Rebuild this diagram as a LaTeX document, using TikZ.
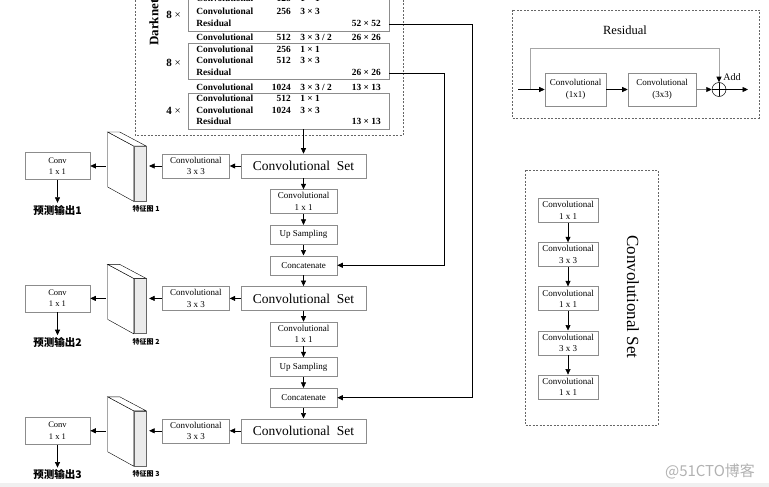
\documentclass[tikz,border=0pt]{standalone}
\usepackage{fontspec}
\setmainfont{Liberation Serif}
\newfontfamily\cjk{Noto Sans CJK SC}
\usetikzlibrary{arrows.meta,positioning,calc}

\tikzset{
  >={Triangle[length=5.5pt,width=5pt,black]},
  box/.style={draw=black!45, fill=white, align=center, inner sep=0pt,
    font=\fontsize{9}{11.5}\selectfont},
  setbox/.style={box, minimum width=125pt, minimum height=24pt,
    font=\fontsize{13.5}{15}\selectfont},
  midbox/.style={box, minimum width=67pt, minimum height=24pt},
  thinbox/.style={box, minimum width=67pt, minimum height=19pt},
  outbox/.style={box, minimum width=65pt, minimum height=27pt,
    font=\fontsize{8.5}{11.5}\selectfont},
  csbox/.style={box, minimum width=60pt, minimum height=24pt},
  dkbox/.style={draw=black!45, minimum width=201pt, inner sep=0pt},
  dkframe/.style={draw=black!60, dash pattern=on 2pt off 1.5pt, line width=0.5pt},
  dkrow/.style={inner sep=0pt, text height=6.5pt, text depth=2pt,
    font=\fontsize{9.4}{10}\selectfont\bfseries},
}

\begin{document}
\begin{tikzpicture}[x=1pt, y=-1pt, line width=0.6pt]
\useasboundingbox (0,0) rectangle (769,487);
\clip (0,0) rectangle (769,487);
\fill[white] (0,0) rectangle (769,487);
\fill[black!6] (0,483) rectangle (769,487);

% backbone
\draw[dkframe] (135,-10) rectangle (403,135);
\node[rotate=90, font=\fontsize{13}{13}\selectfont\bfseries] (dkname) at (154,14) {Darknet-53};
\node[dkbox, minimum height=39pt] (b1) at (288.5,11.5) {};
\node[dkbox, minimum height=36pt] (b2) at (288.5,61) {};
\node[dkbox, minimum height=36pt] (b3) at (288.5,111) {};
\foreach \y/\m [count=\i] in {15/8,63/8,111/4}
  \node[inner sep=0pt, font=\fontsize{11}{11}\selectfont\bfseries] (rep\i) at (173.5,\y) {\m\ \textmd{×}};
\foreach \y/\t/\n/\k/\o [count=\r] in {
    -1/Convolutional/128/{1 × 1}/{},
    12/Convolutional/256/{3 × 3}/{},
    24/Residual/{}/{}/{52 × 52},
    38/Convolutional/512/{3 × 3 / 2}/{26 × 26},
    50/Convolutional/256/{1 × 1}/{},
    61/Convolutional/512/{3 × 3}/{},
    73/Residual/{}/{}/{26 × 26},
    88/Convolutional/1024/{3 × 3 / 2}/{13 × 13},
    99/Convolutional/512/{1 × 1}/{},
    111/Convolutional/1024/{3 × 3}/{},
    122/Residual/{}/{}/{13 × 13}}
{
  \node[dkrow, anchor=west] (t\r) at (196,\y) {\t};
  \node[dkrow, anchor=east] (n\r) at (291,\y) {\n};
  \node[dkrow, anchor=west] (k\r) at (300,\y) {\k};
  \node[dkrow, anchor=east] (o\r) at (381,\y) {\o};
}

% detection head
\node[setbox] (set1) at (303.5,166) {Convolutional\hspace{0.5em}Set};
\node[midbox, below=11pt of set1] (cv1) {Convolutional\\1 x 1};
\node[thinbox, below=11pt of cv1] (up1) {Up Sampling};
\node[thinbox, below=11pt of up1] (cat1) {Concatenate};
\node[setbox, below=11pt of cat1] (set2) {Convolutional\hspace{0.5em}Set};
\node[midbox, below=11pt of set2] (cv2) {Convolutional\\1 x 1};
\node[thinbox, below=11pt of cv2] (up2) {Up Sampling};
\node[thinbox, below=11pt of up2] (cat2) {Concatenate};
\node[setbox, below=11pt of cat2] (set3) {Convolutional\hspace{0.5em}Set};
\foreach \a/\b in {set1/cv1,cv1/up1,up1/cat1,cat1/set2,set2/cv2,cv2/up2,up2/cat2,cat2/set3}
  \draw[->] (\a) -- (\b);

\draw[->] (b3.south -| set1) -- (set1);
\draw[->] (b2.east |- o7) -- ++(55,0) |- (cat1);
\draw[->] (b1.east |- o3) -- ++(83,0) |- (cat2);

% outputs
\foreach \i in {1,2,3}{
  \node[midbox, left=11pt of set\i] (cc\i) {Convolutional\\3 x 3};
  \node[draw=black!60, fill=black!8, minimum width=12pt, minimum height=55pt,
    inner sep=0pt, anchor=north east, line width=0.4pt] (fm\i) at ($(cc\i.west)+(-16,-20)$) {};
  \draw[line width=0.4pt, fill=white] (fm\i.north west) -- ++(-26,-14) -- ++(0,55) -- (fm\i.south west) -- cycle;
  \draw[line width=0.4pt, fill=white] (fm\i.north west) -- ++(-26,-14) -- ++(12,0) -- (fm\i.north east) -- cycle;
  \node[font=\cjk\bfseries\fontsize{7}{8}\selectfont, inner sep=1pt, below=3pt of fm\i.south east] (fmlab\i) {特征图 \i};
  \node[outbox] (out\i) at (57.5,0 |- cc\i) {Conv\\1 x 1};
  \coordinate (fs\i) at ($(fm\i.west |- cc\i.west)+(-28,0)$);
  \node[font=\cjk\bfseries\fontsize{10.5}{12}\selectfont, inner sep=1pt, below=24pt of out\i] (pred\i) {预测输出\i};
  \draw[->] (set\i) -- (cc\i);
  \draw[->, shorten >=3pt] (cc\i.west) -- (cc\i.west -| fm\i.east);
  \draw[->] (fs\i) -- (out\i);
  \draw[->, shorten >=1pt] (out\i) -- (pred\i);
}

% residual block
\draw[dkframe] (512,10) rectangle (759,118);
\node[font=\fontsize{12.5}{14}\selectfont] (restitle) at (625,30) {Residual};
\node[box, minimum width=61pt, minimum height=33pt] (ra) at (575.5,89.5) {Convolutional\\(1x1)};
\node[box, minimum width=68pt, minimum height=33pt] (rb) at (662,89.5) {Convolutional\\(3x3)};
\node[circle, draw, minimum size=14pt, inner sep=0pt, line width=0.5pt,
  path picture={\draw[line width=0.5pt] (path picture bounding box.north) -- (path picture bounding box.south)
    (path picture bounding box.west) -- (path picture bounding box.east);}] (add) at (719,89.5) {};
\node[font=\fontsize{10}{12}\selectfont, anchor=west, inner sep=0pt] (addlab) at (723,77) {Add};
\coordinate (rin) at (518,89.5);
\coordinate (rsk) at (530,89.5);
\coordinate (rout) at (748,89.5);
\draw[->] (rin) -- (ra);
\draw[->] (ra) -- (rb);
\draw[->, draw=black!50] (rb) -- (add);
\draw[->] (add) -- (rout);
\draw[->, draw=black!35] (rsk) -- ++(0,-41) -| (add);

% convolutional set
\draw[dkframe] (525,170) rectangle (658,425);
\node[csbox] (cs1) at (568,210.5) {Convolutional\\1 x 1};
\node[csbox, below=19.5pt of cs1] (cs2) {Convolutional\\3 x 3};
\node[csbox, below=19.5pt of cs2] (cs3) {Convolutional\\1 x 1};
\node[csbox, below=19.5pt of cs3] (cs4) {Convolutional\\3 x 3};
\node[csbox, below=19.5pt of cs4] (cs5) {Convolutional\\1 x 1};
\foreach \a/\b in {cs1/cs2,cs2/cs3,cs3/cs4,cs4/cs5}
  \draw[->] (\a) -- (\b);
\node[rotate=-90, font=\fontsize{17}{17}\selectfont] (cstitle) at (633,297) {Convolutional Set};

\node[font=\cjk\fontsize{15}{16}\selectfont, text=black!30] (wm) at (710,471) {@51CTO博客};
\end{tikzpicture}
\end{document}
